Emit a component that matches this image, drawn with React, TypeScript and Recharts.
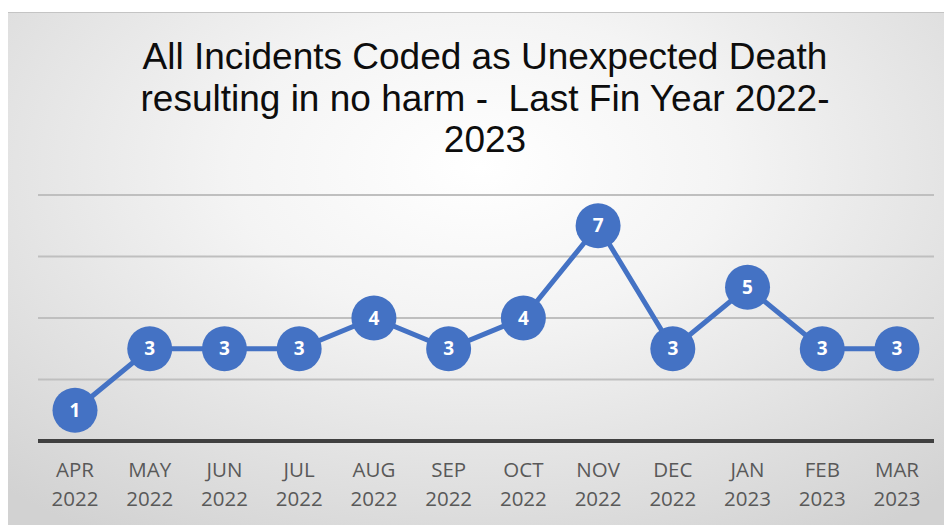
import React from "react";
import { LineChart, Line, XAxis, YAxis, CartesianGrid, LabelList } from "recharts";

const months = ["APR", "MAY", "JUN", "JUL", "AUG", "SEP", "OCT", "NOV", "DEC", "JAN", "FEB", "MAR"];
const years = ["2022", "2022", "2022", "2022", "2022", "2022", "2022", "2022", "2022", "2023", "2023", "2023"];
const incidents = [1, 3, 3, 3, 4, 3, 4, 7, 3, 5, 3, 3];
const yTicks = [0, 2, 4, 6, 8];
const titleLines = [
  "All Incidents Coded as Unexpected Death",
  "resulting in no harm -  Last Fin Year 2022-",
  "2023",
];

const data = months.map((m, i) => ({ label: m + "|" + years[i], value: incidents[i] }));

const BLUE = "#4472C4";

const Tick = (props: any) => {
  const { x, y, payload } = props;
  const [m, yr] = String(payload.value).split("|");
  return (
    <g transform={`translate(${x},${y})`}>
      <text textAnchor="middle" fill="#595959" fontSize={20.5} fontFamily="'Open Sans', 'Liberation Sans', sans-serif">
        <tspan x={0} dy={28}>{m}</tspan>
        <tspan x={0} dy={29}>{yr}</tspan>
      </text>
    </g>
  );
};

export default function App() {
  return (
    <div
      style={{
        position: "relative",
        width: 944,
        height: 513,
        marginTop: 4,
        borderTop: "1px solid #c4c4c4",
        background: "radial-gradient(ellipse 75% 85% at 50% 30%, #ffffff 0%, #f4f4f4 35%, #d2d2d2 100%)",
        overflow: "hidden",
      }}
    >
      <div
        style={{
          position: "absolute",
          left: 0,
          top: 23,
          width: 954,
          textAlign: "center",
          fontFamily: "'Liberation Sans', Arial, sans-serif",
          fontSize: 37,
          lineHeight: "41.5px",
          color: "#0d0d0d",
          whiteSpace: "pre",
        }}
      >
        {titleLines.map((t, i) => (
          <div key={i}>{t}</div>
        ))}
      </div>
      <LineChart
        width={944}
        height={512}
        data={data}
        margin={{ top: 182, right: 18, bottom: 4, left: 30 }}
        style={{ position: "absolute", left: 0, top: 0 }}
      >
        <CartesianGrid vertical={false} stroke="#bfbfbf" strokeWidth={2} />
        <YAxis hide domain={[0, 8]} ticks={yTicks} />
        <XAxis
          dataKey="label"
          interval={0}
          height={80}
          padding={{ left: 37, right: 37 }}
          axisLine={{ stroke: "#404040", strokeWidth: 4 }}
          tickLine={false}
          tick={<Tick />}
        />
        <Line
          dataKey="value"
          stroke={BLUE}
          strokeWidth={5}
          dot={{ r: 22.5, fill: BLUE, stroke: "none" }}
          activeDot={false}
          isAnimationActive={false}
        >
          <LabelList
            dataKey="value"
            position="center"
            fill="#ffffff"
            fontSize={19}
            fontWeight="bold"
            fontFamily="'Open Sans', 'Liberation Sans', sans-serif"
          />
        </Line>
      </LineChart>
    </div>
  );
}
